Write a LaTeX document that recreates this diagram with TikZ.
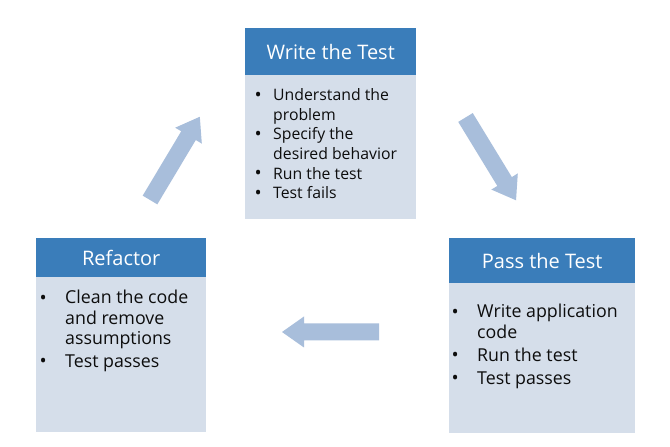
\documentclass[tikz,border=0pt]{standalone}
\usepackage{fontspec}
\setmainfont{Open Sans}
\definecolor{hdr}{HTML}{3A7DBA}
\definecolor{bdy}{HTML}{D5DEEA}
\definecolor{arr}{HTML}{A8BEDB}
\definecolor{txt}{HTML}{0D0D0D}
\tikzset{
  hdrbox/.style={draw=none, fill=hdr, text=white, inner sep=0pt, anchor=north west,
    font=\fontsize{20}{23}\selectfont},
  bdybox/.style={draw=none, fill=bdy, inner sep=0pt, anchor=north west},
  toptext/.style={inner sep=0pt, anchor=north west, align=left, text=txt,
    font=\fontsize{15.8}{19.6}\selectfont},
  sidetext/.style={inner sep=0pt, anchor=north west, align=left, text=txt,
    font=\fontsize{17.8}{20.5}\selectfont},
  blockarrow/.style={fill=arr, draw=none}
}
\newcommand{\bigbul}{\smash{\fontsize{19}{19}\selectfont\raisebox{-0.4pt}{•}}}
\newcommand{\tb}{\makebox[18pt][l]{\hspace*{-0.5pt}\bigbul}}
\newcommand{\ti}{\hspace*{18pt}}
\newcommand{\sbul}{\makebox[25pt][l]{\hspace*{-0.5pt}\bigbul}}
\newcommand{\si}{\hspace*{25pt}}
\newcommand{\arrowshape}{(0,-8.5) -- (75,-8.5) -- (75,-15.5) -- (97,0) -- (75,15.5) -- (75,8.5) -- (0,8.5) -- cycle}
\begin{document}
\begin{tikzpicture}[x=1pt,y=1pt]
\useasboundingbox[fill=white] (0,0) rectangle (670,447);
% Write the Test
\node[bdybox, minimum width=171pt, minimum height=144pt] (wb) at (245,372) {};
\node[hdrbox, minimum width=171pt, minimum height=47pt] (wh) at (245,419) {Write the Test};
\node[toptext] (wt) at (255,358.5) {\tb Understand the\\\ti problem\\\tb Specify the\\\ti desired behavior\\\tb Run the test\\\tb Test fails};
% Pass the Test
\node[bdybox, minimum width=186pt, minimum height=150pt] (pb) at (449,164) {};
\node[hdrbox, minimum width=186pt, minimum height=45pt] (ph) at (449,209) {Pass the Test};
\node[sidetext] (pt) at (452,143) {\sbul Write application\\\si code\\[2.5pt]\sbul Run the test\\[2.5pt]\sbul Test passes};
% Refactor
\node[bdybox, minimum width=170pt, minimum height=155pt] (rb) at (36,170) {};
\node[hdrbox, minimum width=170pt, minimum height=39pt] (rh) at (36,209) {Refactor};
\node[sidetext] (rt) at (40,157) {\sbul Clean the code\\\si and remove\\\si assumptions\\[2pt]\sbul Test passes};
% block arrows
\coordinate (a1) at (150,247);
\coordinate (a2) at (465.5,329.5);
\coordinate (a3) at (379,115);
\begin{scope}[shift={(a1)}, rotate=59.1]
  \fill[blockarrow] \arrowshape;
\end{scope}
\begin{scope}[shift={(a2)}, rotate=-58.6]
  \fill[blockarrow] \arrowshape;
\end{scope}
\begin{scope}[shift={(a3)}, rotate=180]
  \fill[blockarrow] \arrowshape;
\end{scope}
\end{tikzpicture}
\end{document}
